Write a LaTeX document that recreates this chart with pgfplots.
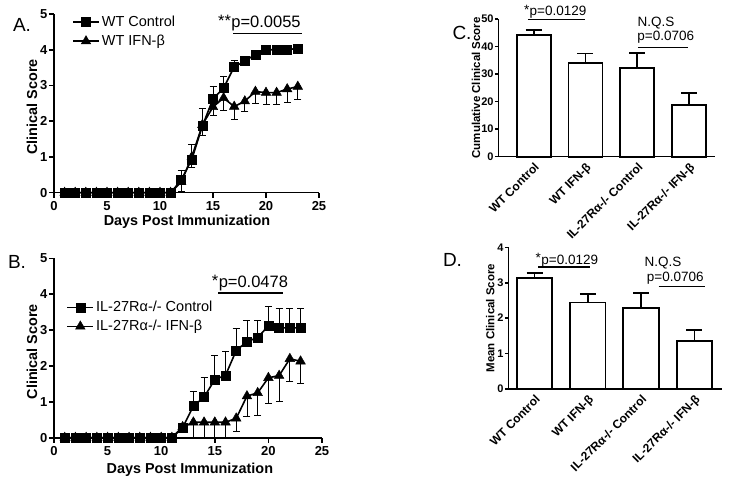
\documentclass[border=0pt]{standalone}
\usepackage{fontspec}
\setmainfont{Liberation Sans}
\usepackage{pgfplots}
\usepackage{pgfplotstable}
\pgfplotsset{compat=1.18}
\newcommand\fs[1]{\fontsize{#1}{#1}\selectfont}

% time courses: day, mean, sem
\pgfplotstableread{
d v e
1 0 0
2 0 0
3 0 0
4 0 0
5 0 0
6 0 0
7 0 0
8 0 0
9 0 0
10 0 0
11 0 0
12 0.35 0.27
13 0.93 0.42
14 1.87 0.50
15 2.62 0.36
16 2.93 0.32
17 3.52 0.17
18 3.68 0.14
19 3.87 0.12
20 4.00 0.05
21 4.00 0.05
22 4.00 0.05
23 4.04 0.11
}\Actl
\pgfplotstableread{
d v e
1 0 0
2 0 0
3 0 0
4 0 0
5 0 0
6 0 0
7 0 0
8 0 0
9 0 0
10 0 0
11 0 0
12 0.30 0.25
13 1.00 0.30
14 1.90 0.30
15 2.40 0.25
16 2.65 0.35
17 2.41 0.36
18 2.56 0.29
19 2.83 0.32
20 2.80 0.32
21 2.80 0.32
22 2.90 0.37
23 2.97 0.35
}\Aifn
\pgfplotstableread{
d v e
1 0 0
2 0 0
3 0 0
4 0 0
5 0 0
6 0 0
7 0 0
8 0 0
9 0 0
10 0 0
11 0 0
12 0.28 0.12
13 0.88 0.42
14 1.13 0.56
15 1.62 0.67
16 1.74 0.67
17 2.43 0.61
18 2.68 0.58
19 2.79 0.49
20 3.12 0.54
21 3.06 0.53
22 3.06 0.53
23 3.06 0.53
}\Bctl
\pgfplotstableread{
d v e
1 0 0
2 0 0
3 0 0
4 0 0
5 0 0
6 0 0
7 0 0
8 0 0
9 0 0
10 0 0
11 0 0
12 0.30 0.10
13 0.43 0.43
14 0.43 0.43
15 0.43 0.43
16 0.43 0.43
17 0.54 0.37
18 1.16 0.56
19 1.25 0.62
20 1.67 0.72
21 1.73 0.71
22 2.20 0.63
23 2.13 0.63
}\Bifn
% summary bars: group, mean, sem
\pgfplotstableread{
g v e
1 44.2 1.8
2 34.1 3.4
3 32.1 5.7
4 18.8 4.4
}\Ccum
\pgfplotstableread{
g v e
1 3.14 0.14
2 2.44 0.24
3 2.29 0.41
4 1.35 0.32
}\Dmean

\tikzset{ann/.style={font=\fs{#1}, inner sep=0pt}}

\pgfplotsset{
  gp/.style={
    scale only axis, anchor=south west, clip=false,
    axis x line*=bottom, axis y line*=left,
    axis line style={line width=1.6pt},
    tick align=outside, major tick length=5pt,
    tick style={line width=1.6pt, black},
    /pgf/number format/assume math mode=true,
    tick label style={font=\bfseries\fs{13}},
  },
  course/.style={
    xmin=0, xmax=25, ymin=0, ymax=5,
    xtick={0,5,...,25}, ytick={0,...,5},
    yticklabel style={inner sep=1.5pt},
    xlabel={Days Post Immunization}, ylabel={Clinical Score},
    label style={font=\bfseries\fs{14.4}},
    legend style={draw=none, fill=none, anchor=north west, font=\fs{14.5},
      inner sep=0pt, row sep=3pt, nodes={inner sep=2pt}},
    legend cell align=left, reverse legend,
    legend image code/.code={\draw[mark repeat=2,mark phase=2,##1]
      plot coordinates {(0pt,0pt) (13pt,0pt) (26pt,0pt)};},
  },
  ctl/.style={black, line width=1.6pt, mark=square*, mark size=4.5pt,
    mark options={line width=0.5pt},
    error bars/.cd, y dir=plus, y explicit,
    error bar style={line width=0.8pt},
    error mark options={rotate=90, mark size=3.5pt, line width=0.8pt}},
  ifn/.style={black, line width=1.6pt, mark=triangle*, mark size=5.5pt,
    mark options={line width=0.5pt},
    error bars/.cd, y dir=minus, y explicit,
    error bar style={line width=0.8pt},
    error mark options={rotate=90, mark size=3.5pt, line width=0.8pt}},
  summ/.style={
    ybar, xtick={1,2,3,4},
    xticklabels={{WT Control},{WT IFN-β},{IL-27Rα-/- Control},{IL-27Rα-/- IFN-β}},
    xticklabel style={rotate=45, anchor=north east, inner sep=1pt, font=\bfseries\fs{12}},
    yticklabel style={inner sep=1pt, font=\bfseries\fs{11}},
    major tick length=3.5pt,
    major x tick style={draw=none},
    label style={font=\bfseries\fs{11.5}},
  },
  bars/.style={fill=white, draw=black, line width=1.8pt,
    error bars/.cd, y dir=plus, y explicit,
    error bar style={line width=1.8pt},
    error mark options={rotate=90, mark size=8pt, line width=1.8pt}},
}

\begin{document}
\begin{tikzpicture}
\path[use as bounding box] (0,0) rectangle (729pt,483pt);

% A
\begin{axis}[gp, course, at={(54pt,290.3pt)}, width=265pt, height=178.7pt,
  xlabel style={at={(axis description cs:0.502,-0.164)}, anchor=center},
  ylabel style={at={(axis description cs:-0.083,0.48)}, anchor=center},
  legend style={at={(axis cs:1.7,5.0)}}]
\addplot[ifn] table[x=d, y=v, y error=e] {\Aifn};
\addlegendentry{WT IFN-β}
\addplot[ctl] table[x=d, y=v, y error=e] {\Actl};
\addlegendentry{WT Control}
\draw[line width=1.6pt] (axis cs:16.9,4.46) -- (axis cs:23.4,4.46);
\node[ann=16.5] (pa) at (axis cs:20.0,4.74) {p=0.0055};
\node[ann=16.5, anchor=north east] at ([yshift=1pt]pa.north west) {**};
\end{axis}
\node[font=\fs{19}] at (22pt,458pt) {A.};

% B
\begin{axis}[gp, course, at={(54pt,45.3pt)}, width=268pt, height=179.4pt,
  xlabel style={at={(axis description cs:0.507,-0.18)}, anchor=center},
  ylabel style={at={(axis description cs:-0.082,0.479)}, anchor=center},
  legend style={at={(axis cs:1.15,3.86)}}]
\addplot[ifn] table[x=d, y=v, y error=e] {\Bifn};
\addlegendentry{IL-27Rα-/- IFN-β}
\addplot[ctl] table[x=d, y=v, y error=e] {\Bctl};
\addlegendentry{IL-27Rα-/- Control}
\draw[line width=1.6pt] (axis cs:15.3,4.04) -- (axis cs:21.36,4.04);
\node[ann=16.5] (pb) at (axis cs:18.6,4.30) {p=0.0478};
\node[ann=16.5, anchor=north east] at ([yshift=1pt]pb.north west) {*};
\end{axis}
\node[font=\fs{19}] at (17pt,221.3pt) {B.};

% C
\begin{axis}[gp, summ, at={(498.3pt,326.3pt)}, width=216.7pt, height=137.7pt,
  xmin=0.317, xmax=4.5, ymin=0, ymax=50, ytick={0,10,...,50},
  bar width=34pt, ylabel={Cumulative Clinical Score},
  ylabel style={at={(axis description cs:-0.103,0.5)}, anchor=center}]
\addplot[bars] table[x=g, y=v, y error=e] {\Ccum};
\draw[line width=1.6pt] (axis cs:0.89,49.8) -- (axis cs:2.0,49.8);
\node[ann=13.5] (pc) at (axis cs:1.47,52.4) {p=0.0129};
\node[ann=13.5, anchor=north east] at ([yshift=1pt]pc.north west) {*};
\node[ann=13.5] at (axis cs:3.36,48.7) {N.Q.S};
\node[ann=13.5] at (axis cs:3.55,43.4) {p=0.0706};
\draw[line width=1.6pt] (axis cs:3.01,39.7) -- (axis cs:3.97,39.7);
\end{axis}
\node[font=\fs{19}] at (462pt,450pt) {C.};

% D
\begin{axis}[gp, summ, at={(508.3pt,94pt)}, width=213.7pt, height=141.7pt,
  xmin=0.508, xmax=4.517, ymin=0, ymax=4, ytick={0,...,4},
  bar width=35.5pt, ylabel={Mean Clinical Score},
  ylabel style={at={(axis description cs:-0.084,0.5)}, anchor=center}]
\addplot[bars] table[x=g, y=v, y error=e] {\Dmean};
\draw[line width=1.6pt] (axis cs:1.066,3.45) -- (axis cs:2.04,3.45);
\node[ann=13.5] (pd) at (axis cs:1.66,3.62) {p=0.0129};
\node[ann=13.5, anchor=north east] at ([yshift=1pt]pd.north west) {*};
\node[ann=13.5] at (axis cs:3.41,3.565) {N.Q.S};
\node[ann=13.5] at (axis cs:3.64,3.14) {p=0.0706};
\draw[line width=1.6pt] (axis cs:3.33,2.89) -- (axis cs:4.20,2.89);
\end{axis}
\node[font=\fs{19}] at (452.5pt,223pt) {D.};
\end{tikzpicture}
\end{document}
